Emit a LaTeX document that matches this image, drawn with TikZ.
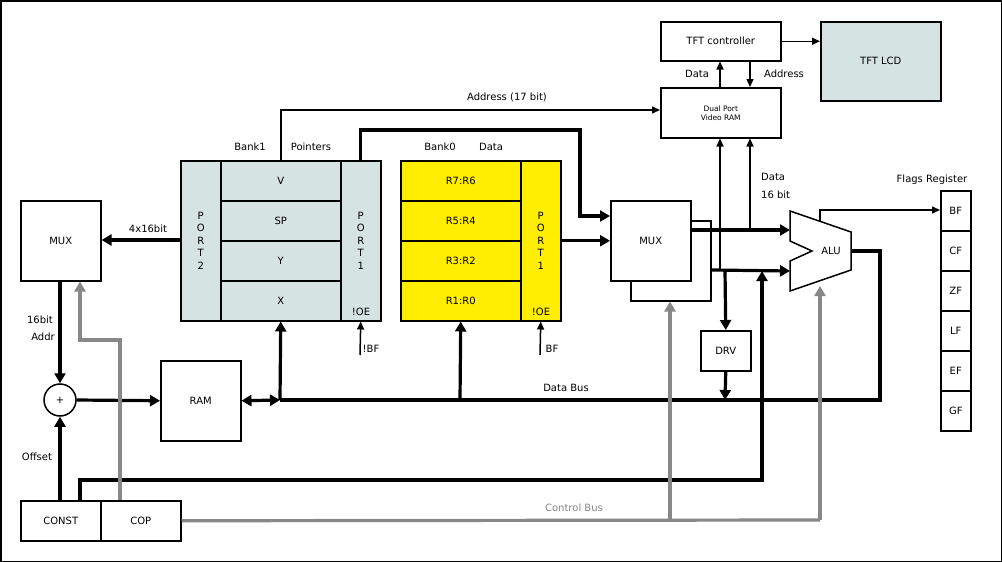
\documentclass[tikz,border=0pt]{standalone}
\usepackage{fontspec}
\setmainfont{DejaVu Sans}
\usetikzlibrary{arrows.meta}
\definecolor{bluegray}{HTML}{D6E3E3}
\definecolor{yel}{HTML}{FFEE00}
\definecolor{cgray}{HTML}{888888}
\begin{document}
\begin{tikzpicture}[x=1pt,y=-1pt,font=\fontsize{10}{12}\selectfont,
  box/.style={draw,line width=1.5pt,inner sep=0,anchor=north west},
  thin/.style={line width=1.5pt,-{Triangle[length=8pt,width=7pt]}},
  thick/.style={line width=3.2pt,-{Triangle[length=10pt,width=11pt]}},
  gthick/.style={line width=3.2pt,draw=cgray,-{Triangle[length=10pt,width=11pt]},color=cgray},
  port/.style={box,minimum width=40pt,minimum height=160pt,align=center,font=\fontsize{10}{12.5}\selectfont},
  lbl/.style={inner sep=1pt}]
\draw[line width=1.5pt,fill=white] (0.75,0.75) rectangle (1001.25,561.25);
\useasboundingbox (0,0) rectangle (1002,562);
% top
\node[box,minimum width=120pt,minimum height=39pt] (tft) at (660,21) {TFT controller};
\node[box,minimum width=120pt,minimum height=79pt,fill=bluegray] (lcd) at (820,21) {TFT LCD};
\node[box,minimum width=120pt,minimum height=50pt,font=\fontsize{7.5}{9}\selectfont,align=center] (vram) at (660,87) {Dual Port\\Video RAM};
\draw[thin] (tft.east) -- (lcd.west|-tft.east);
\draw[thin] (vram.north-|720,0) -- (tft.south-|720,0);
\draw[thin] (tft.south-|750,0) -- (vram.north-|750,0);
\node[lbl] (ldata) at (697,74) {Data};
\node[lbl] (laddr) at (784,74) {Address};
% bank1
\node[port,fill=bluegray] (p2) at (180,160) {P\\O\\R\\T\\2};
\foreach \t/\n [count=\i from 0] in {V/v,SP/sp,Y/y,X/x}
  \node[box,minimum width=120pt,minimum height=40pt,fill=bluegray] (\n) at (220,160+40*\i) {\t};
\node[port,fill=bluegray] (p1a) at (340,160) {P\\O\\R\\T\\1};
\node[lbl] at (250,147) {Bank1};
\node[lbl] at (311,147) {Pointers};
\node[lbl] at (361,312) {!OE};
% bank0
\foreach \t/\n [count=\i from 0] in {R7:R6/ra,R5:R4/rb,R3:R2/rc,R1:R0/rd}
  \node[box,minimum width=120pt,minimum height=40pt,fill=yel] (\n) at (400,160+40*\i) {\t};
\node[port,fill=yel] (p1b) at (520,160) {P\\O\\R\\T\\1};
\node[lbl] at (440,147) {Bank0};
\node[lbl] at (491,147) {Data};
\node[lbl] at (541,312) {!OE};
\coordinate (bfa) at (360,355); \coordinate (bfb) at (540,355);
\draw[thin] (bfa) -- (p1a.south);
\draw[thin] (bfb) -- (p1b.south);
\node[lbl] at (371,349) {!BF};
\node[lbl] at (552,349) {BF};
% address line
\draw[thin] (v.north) -- ++(0,-50) -- (vram.west|-0,110);
\node[lbl] at (507,97) {Address (17 bit)};
% mux2
\node[box,minimum width=80pt,minimum height=80pt] (mux2b) at (630,220) {};
\node[box,minimum width=80pt,minimum height=80pt,fill=white] (mux2) at (610,200) {MUX};
\draw[thick] (p1a.north) -- ++(0,-30) -- (580,130) -- (580,216) -- (mux2.west|-0,216);
\draw[thick] (p1b.east) -- (mux2.west|-p1b.east);
% ALU
\draw[line width=1.5pt] (790,211) -- (851,232) -- (851,270) -- (790,291) -- (790,261) -- (812,251) -- (790,241) -- cycle;
\node (alu) at (831,251) {ALU};
\coordinate (aluin1) at (790,230); \coordinate (aluin2) at (790,271);
\coordinate (aluout) at (851,251);
\draw[thick] (mux2.east|-0,230) -- (aluin1);
\draw[thick] (mux2b.east|-0,270) -- (aluin2);
\draw[thin] (720,270) -- (vram.south-|720,0);
\draw[thin] (750,230) -- (vram.south-|750,0);
\node[lbl,anchor=west] at (760,177) {Data};
\node[lbl,anchor=west] at (760,195) {16 bit};
\node[box,minimum width=50pt,minimum height=40pt] (drv) at (700,330) {DRV};
\draw[thick] (725,270) -- (drv.north);
\coordinate (busR) at (880,400);
\draw[thick] (drv.south) -- (725,400);
% flags
\foreach \t/\n [count=\i from 0] in {BF/bf,CF/cf,ZF/zf,LF/lf,EF/ef,GF/gf}
  \node[box,minimum width=30pt,minimum height=40pt] (\n) at (940,190+40*\i) {\t};
\node[lbl] at (932,180) {Flags Register};
\draw[thin] (820,221) -- (820,210) -- (bf.west|-0,210);
% left
\node[box,minimum width=80pt,minimum height=80pt] (mux1) at (20,200) {MUX};
\draw[thick] (p2.west|-0,240) -- (mux1.east|-0,240);
\node[lbl] at (148,229) {4x16bit};
\node[draw,circle,line width=1.5pt,minimum size=32pt,inner sep=0] (plus) at (60,400) {+};
\draw[thick] (mux1.south-|60,0) -- (plus.north);
\node[lbl] at (40,320) {16bit};
\node[lbl] at (43,337) {Addr};
\node[box,minimum width=80pt,minimum height=40pt] (const) at (20,500) {CONST};
\node[box,minimum width=80pt,minimum height=40pt] (cop) at (100,500) {COP};
\draw[thick] (const.north-|60,0) -- (plus.south);
\node[lbl] at (37,457) {Offset};
\node[box,minimum width=80pt,minimum height=80pt] (ram) at (160,360) {RAM};
\draw[thick] (plus.east) -- (ram.west);
\draw[line width=3.2pt,{Triangle[length=10pt,width=11pt]}-{Triangle[length=10pt,width=11pt]}] (ram.east) -- (280,400);
\draw[line width=3.2pt] (280,400) -- (busR) -- (880,251) -- (aluout);
\draw[thick] (280,400) -- (x.south);
\draw[thick] (460,400) -- (rd.south);
\node[lbl] at (566,388) {Data Bus};
\draw[thick] (const.north-|80,0) -- (80,480) -- (762,480) -- (762,271);
% control bus
\draw[gthick] (cop.north-|120,0) -- (120,340) -- (80,340) -- (mux1.south-|80,0);
\draw[line width=3.2pt,cgray] (cop.east) -- (820,520);
\draw[gthick] (670,520) -- (mux2b.south-|670,0);
\draw[gthick] (820,520) -- (820,286);
\node[lbl,text=cgray] at (574,508) {Control Bus};
\end{tikzpicture}
\end{document}
